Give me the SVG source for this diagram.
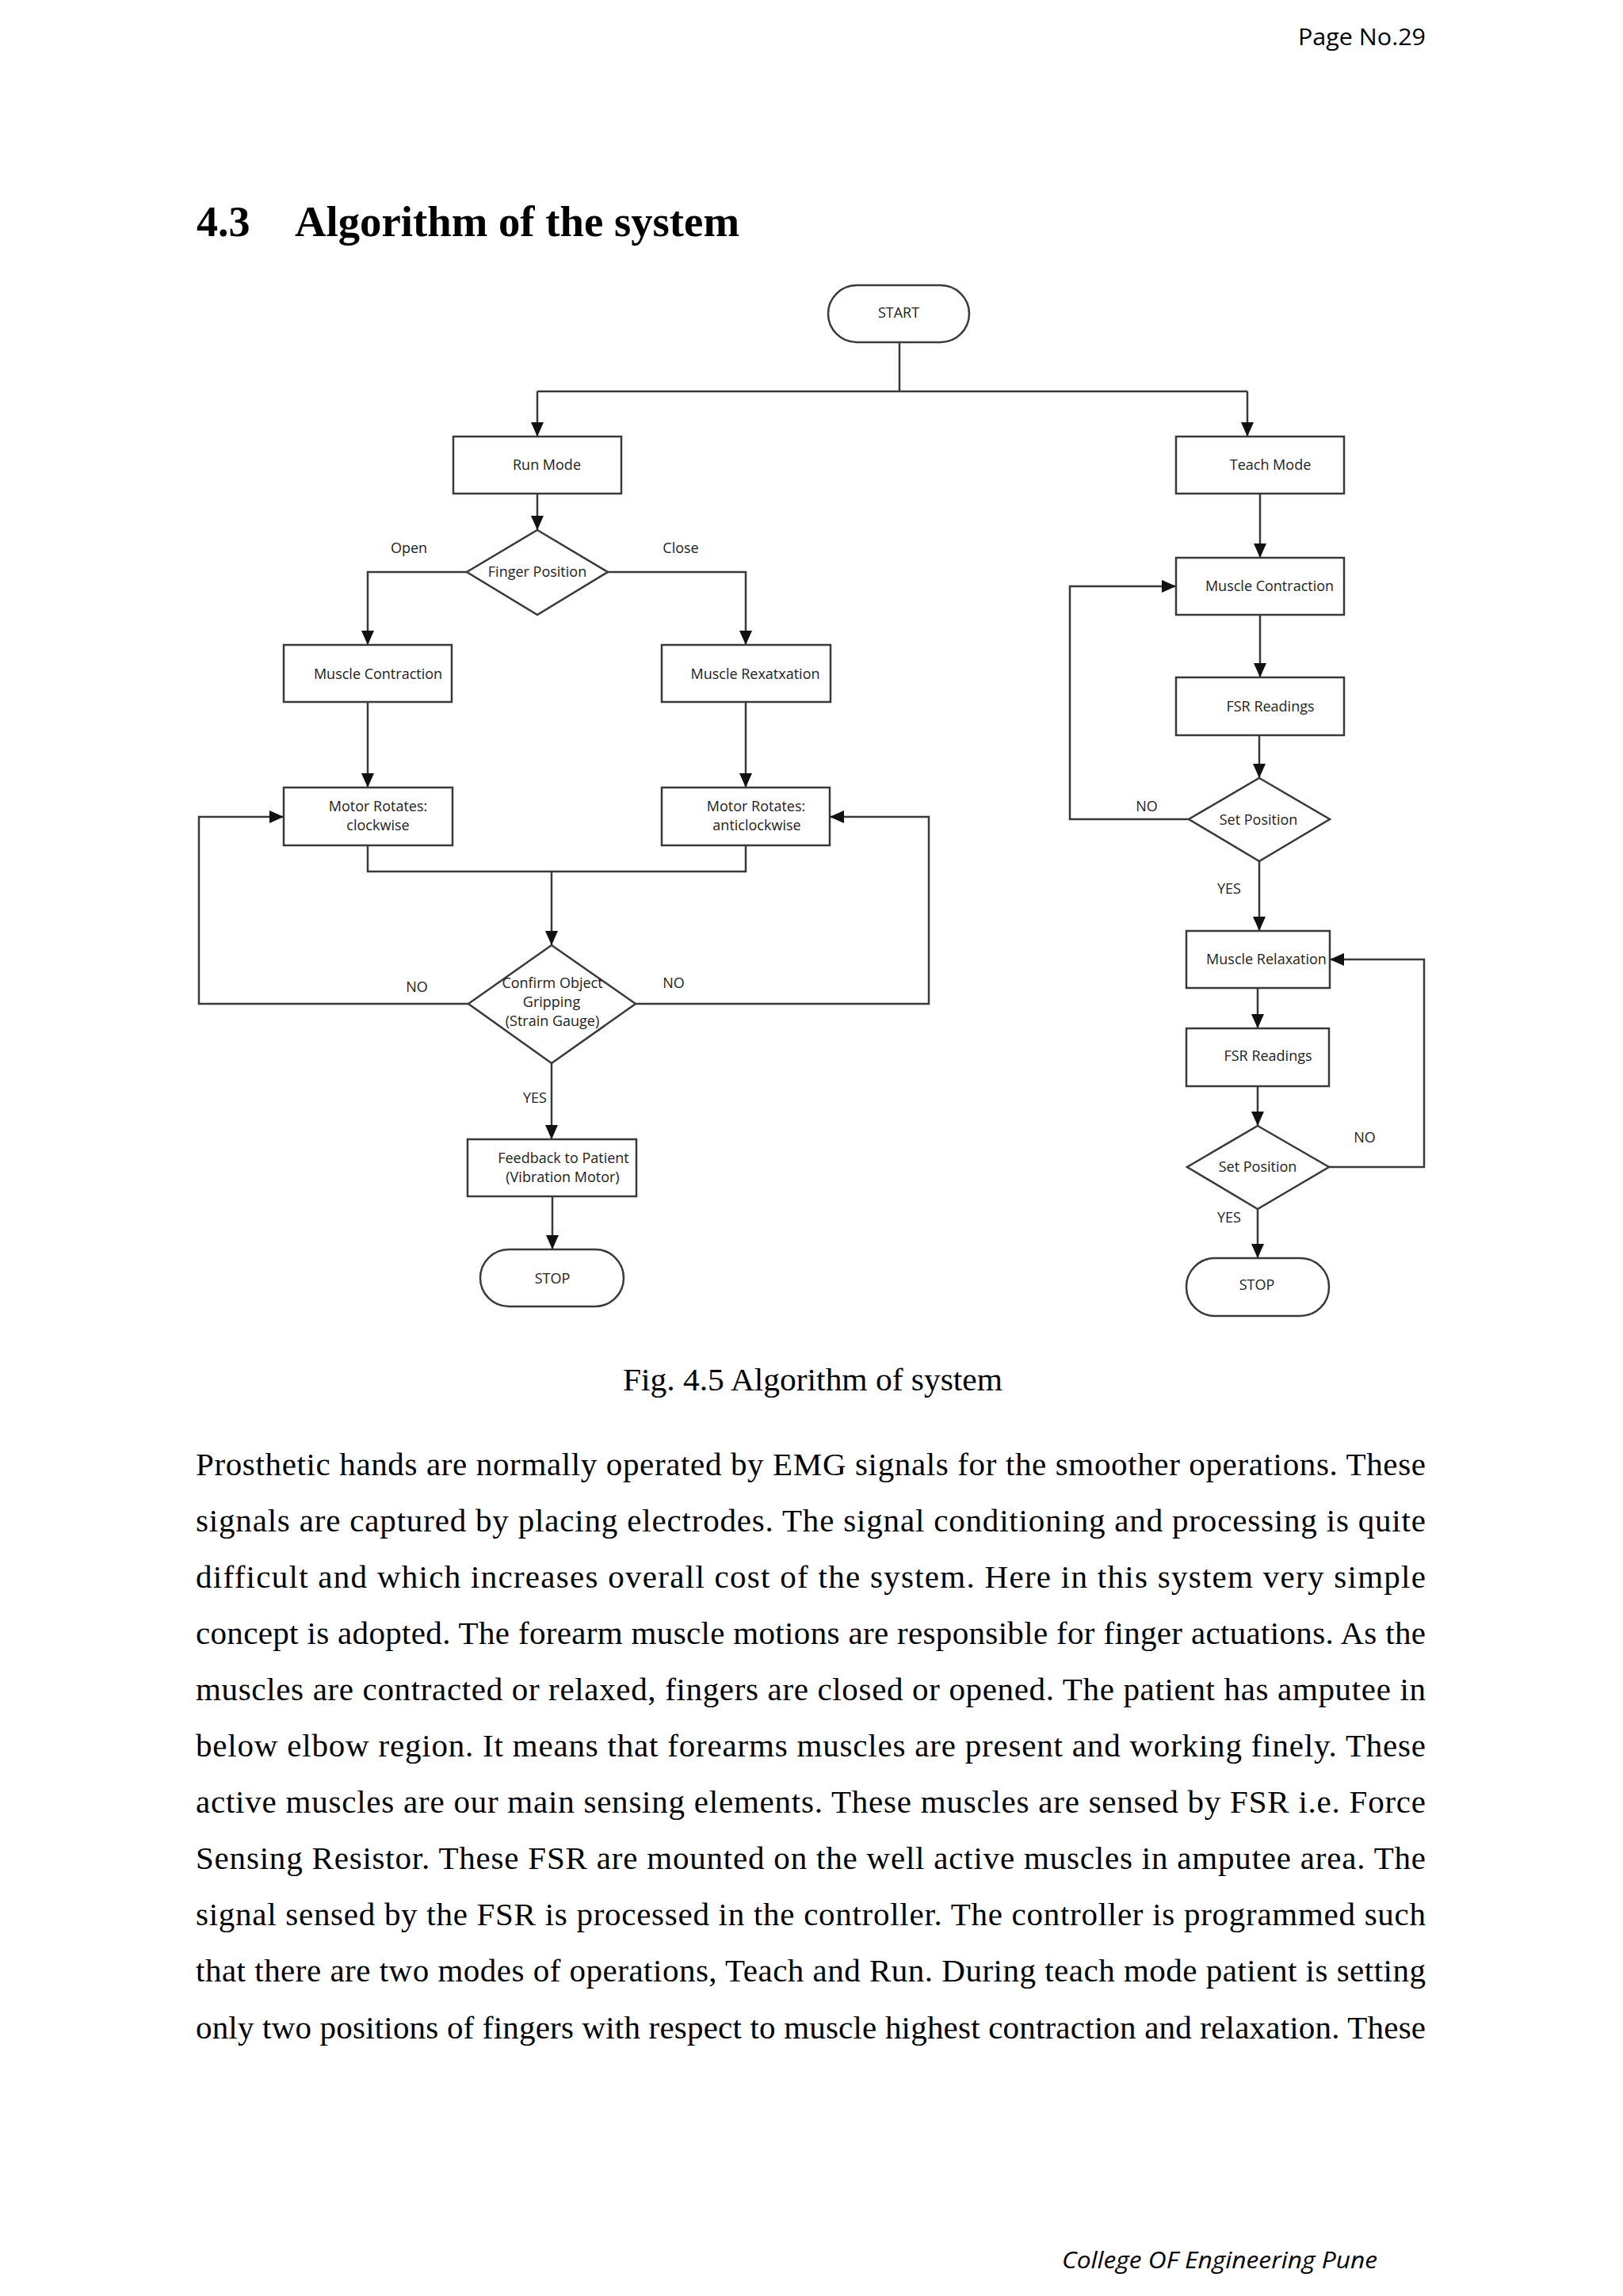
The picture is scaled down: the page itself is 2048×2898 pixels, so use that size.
<svg xmlns="http://www.w3.org/2000/svg" width="2048" height="2898" viewBox="0 0 2048 2898">
<style>
.bg{fill:#ffffff}
.node{fill:#ffffff;stroke:#3a3a3a;stroke-width:2.5}
.lbl{font-family:"Open Sans","Liberation Sans",sans-serif;font-size:18px;fill:#222;text-anchor:middle}
.edge{fill:none;stroke:#3a3a3a;stroke-width:2.5}
.body{font-family:"Liberation Serif","Times New Roman",serif;font-size:41px;fill:#000}
</style>
<defs>
<marker id="arr" markerUnits="userSpaceOnUse" markerWidth="18" markerHeight="16" refX="18" refY="8" orient="auto">
<path d="M0,0 L18,8 L0,16 z" fill="#111"/>
</marker>
</defs>
<rect class="bg" x="0" y="0" width="2048" height="2898"/>

<text x="1638" y="57" font-family="'Open Sans','Liberation Sans',sans-serif" font-size="30" fill="#000" textLength="161" lengthAdjust="spacingAndGlyphs">Page No.29</text>
<text x="248" y="298" font-family="'Liberation Serif','Times New Roman',serif" font-size="54" font-weight="bold" fill="#000">4.3</text>
<text x="372" y="298" font-family="'Liberation Serif','Times New Roman',serif" font-size="54" font-weight="bold" fill="#000" textLength="561" lengthAdjust="spacingAndGlyphs">Algorithm of the system</text>

<g id="connectors">
<path class="edge" d="M1135,432 V494"/>
<path class="edge" d="M678,494 H1574"/>
<path class="edge" marker-end="url(#arr)" d="M678,494 V551"/>
<path class="edge" marker-end="url(#arr)" d="M1574,494 V551"/>
<path class="edge" marker-end="url(#arr)" d="M678,623 V669"/>
<path class="edge" marker-end="url(#arr)" d="M589,722 H464 V814"/>
<path class="edge" marker-end="url(#arr)" d="M767,722 H941 V814"/>
<path class="edge" marker-end="url(#arr)" d="M464,886 V994"/>
<path class="edge" marker-end="url(#arr)" d="M941,886 V994"/>
<path class="edge" d="M464,1067 V1100 H941 V1067"/>
<path class="edge" marker-end="url(#arr)" d="M696,1100 V1193"/>
<path class="edge" marker-end="url(#arr)" d="M591,1267 H251 V1031 H358"/>
<path class="edge" marker-end="url(#arr)" d="M802,1267 H1172 V1031 H1047"/>
<path class="edge" marker-end="url(#arr)" d="M696,1342 V1438"/>
<path class="edge" marker-end="url(#arr)" d="M697,1510 V1577"/>
<path class="edge" marker-end="url(#arr)" d="M1590,623 V704"/>
<path class="edge" marker-end="url(#arr)" d="M1590,776 V855"/>
<path class="edge" marker-end="url(#arr)" d="M1589,928 V982"/>
<path class="edge" marker-end="url(#arr)" d="M1500,1034 H1350 V740 H1484"/>
<path class="edge" marker-end="url(#arr)" d="M1589,1087 V1175"/>
<path class="edge" marker-end="url(#arr)" d="M1587,1247 V1298"/>
<path class="edge" marker-end="url(#arr)" d="M1587,1371 V1421"/>
<path class="edge" marker-end="url(#arr)" d="M1677,1473 H1797 V1211 H1678"/>
<path class="edge" marker-end="url(#arr)" d="M1587,1526 V1588"/>
<text class="lbl" x="516" y="698">Open</text>
<text class="lbl" x="859" y="698">Close</text>
<text class="lbl" x="526" y="1252">NO</text>
<text class="lbl" x="850" y="1247">NO</text>
<text class="lbl" x="675" y="1392">YES</text>
<text class="lbl" x="1447" y="1024">NO</text>
<text class="lbl" x="1551" y="1128">YES</text>
<text class="lbl" x="1722" y="1442">NO</text>
<text class="lbl" x="1551" y="1543">YES</text>
</g>

<g id="start">
<rect class="node" x="1045" y="360" width="178" height="72" rx="36" ry="36"/>
<text class="lbl" x="1134" y="401">START</text>
</g>
<g id="run-mode">
<rect class="node" x="572" y="551" width="212" height="72"/>
<text class="lbl" x="690" y="593">Run Mode</text>
</g>
<g id="teach-mode">
<rect class="node" x="1484" y="551" width="212" height="72"/>
<text class="lbl" x="1603" y="593">Teach Mode</text>
</g>
<g id="finger-position">
<polygon class="node" points="678,669 767,722 678,776 589,722"/>
<text class="lbl" x="678" y="728">Finger Position</text>
</g>
<g id="muscle-contraction-run">
<rect class="node" x="358" y="814" width="212" height="72"/>
<text class="lbl" x="477" y="857">Muscle Contraction</text>
</g>
<g id="muscle-relaxation-run">
<rect class="node" x="835" y="814" width="213" height="72"/>
<text class="lbl" x="953" y="857">Muscle Rexatxation</text>
</g>
<g id="motor-clockwise">
<rect class="node" x="358" y="994" width="213" height="73"/>
<text class="lbl" x="477" y="1024">Motor Rotates:</text>
<text class="lbl" x="477" y="1048">clockwise</text>
</g>
<g id="motor-anticlockwise">
<rect class="node" x="835" y="994" width="212" height="73"/>
<text class="lbl" x="954" y="1024">Motor Rotates:</text>
<text class="lbl" x="955" y="1048">anticlockwise</text>
</g>
<g id="confirm-gripping">
<polygon class="node" points="696,1193 802,1267 696,1342 591,1267"/>
<text class="lbl" x="697" y="1247">Confirm Object</text>
<text class="lbl" x="696" y="1271">Gripping</text>
<text class="lbl" x="697" y="1295">(Strain Gauge)</text>
</g>
<g id="feedback">
<rect class="node" x="590" y="1438" width="213" height="72"/>
<text class="lbl" x="711" y="1468">Feedback to Patient</text>
<text class="lbl" x="710" y="1492">(Vibration Motor)</text>
</g>
<g id="stop-run">
<rect class="node" x="606" y="1577" width="181" height="72" rx="36" ry="36"/>
<text class="lbl" x="697" y="1620">STOP</text>
</g>
<g id="muscle-contraction-teach">
<rect class="node" x="1484" y="704" width="212" height="72"/>
<text class="lbl" x="1602" y="746">Muscle Contraction</text>
</g>
<g id="fsr-readings-1">
<rect class="node" x="1484" y="855" width="212" height="73"/>
<text class="lbl" x="1603" y="898">FSR Readings</text>
</g>
<g id="set-position-1">
<polygon class="node" points="1589,982 1678,1034 1589,1087 1500,1034"/>
<text class="lbl" x="1588" y="1041">Set Position</text>
</g>
<g id="muscle-relaxation-teach">
<rect class="node" x="1497" y="1175" width="181" height="72"/>
<text class="lbl" x="1598" y="1217">Muscle Relaxation</text>
</g>
<g id="fsr-readings-2">
<rect class="node" x="1497" y="1298" width="180" height="73"/>
<text class="lbl" x="1600" y="1339">FSR Readings</text>
</g>
<g id="set-position-2">
<polygon class="node" points="1587,1421 1677,1473 1587,1526 1498,1473"/>
<text class="lbl" x="1587" y="1479">Set Position</text>
</g>
<g id="stop-teach">
<rect class="node" x="1497" y="1588" width="180" height="73" rx="36" ry="36"/>
<text class="lbl" x="1586" y="1628">STOP</text>
</g>

<text x="786" y="1755" font-family="'Liberation Serif','Times New Roman',serif" font-size="41" fill="#000" textLength="479" lengthAdjust="spacingAndGlyphs">Fig. 4.5 Algorithm of system</text>

<g id="body-text">
<text class="body" x="247" y="1862" textLength="1552" lengthAdjust="spacing">Prosthetic hands are normally operated by EMG signals for the smoother operations. These</text>
<text class="body" x="247" y="1933" textLength="1552" lengthAdjust="spacing">signals are captured by placing electrodes. The signal conditioning and processing is quite</text>
<text class="body" x="247" y="2004" textLength="1552" lengthAdjust="spacing">difficult and which increases overall cost of the system. Here in this system very simple</text>
<text class="body" x="247" y="2075" textLength="1552" lengthAdjust="spacing">concept is adopted. The forearm muscle motions are responsible for finger actuations. As the</text>
<text class="body" x="247" y="2146" textLength="1552" lengthAdjust="spacing">muscles are contracted or relaxed, fingers are closed or opened. The patient has amputee in</text>
<text class="body" x="247" y="2217" textLength="1552" lengthAdjust="spacing">below elbow region. It means that forearms muscles are present and working finely. These</text>
<text class="body" x="247" y="2288" textLength="1552" lengthAdjust="spacing">active muscles are our main sensing elements. These muscles are sensed by FSR i.e. Force</text>
<text class="body" x="247" y="2359" textLength="1552" lengthAdjust="spacing">Sensing Resistor. These FSR are mounted on the well active muscles in amputee area. The</text>
<text class="body" x="247" y="2430" textLength="1552" lengthAdjust="spacing">signal sensed by the FSR is processed in the controller. The controller is programmed such</text>
<text class="body" x="247" y="2501" textLength="1552" lengthAdjust="spacing">that there are two modes of operations, Teach and Run. During teach mode patient is setting</text>
<text class="body" x="247" y="2573" textLength="1552" lengthAdjust="spacing">only two positions of fingers with respect to muscle highest contraction and relaxation. These</text>
</g>

<text x="1340" y="2863" font-family="'Open Sans','Liberation Sans',sans-serif" font-size="30" font-style="italic" fill="#000" textLength="398" lengthAdjust="spacingAndGlyphs">College OF Engineering Pune</text>
</svg>
